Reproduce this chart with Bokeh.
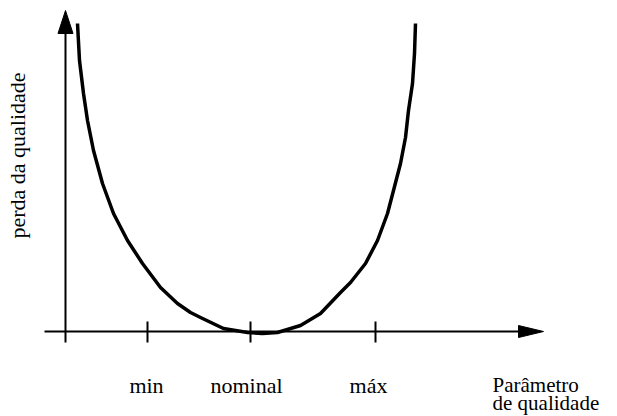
from bokeh.plotting import figure
from bokeh.models import Range1d, Label
from bokeh.embed import file_html
from bokeh.resources import INLINE

# Quality loss curve (x = quality parameter position, loss above the axis)
curve_x = [77, 79, 83, 87, 93, 102, 113, 127, 142, 160, 177, 190, 200, 223, 247, 262,
           277, 300, 320, 340, 350, 365, 377, 387, 393, 400, 405, 408, 412, 414, 415]
curve_loss = [308, 271, 238, 211, 181, 148, 118, 91, 68, 44, 28, 19, 14, 3, -1, -2,
              -1, 6, 18, 39, 49, 68, 91, 118, 141, 168, 194, 221, 248, 278, 308]

tick_x = [147, 250, 375]
tick_labels = ["min", "nominal", "máx"]
label_x = [146, 246, 368]

x_axis_start, x_axis_end = 44, 543
y_axis_x = 65
y_axis_bottom, y_axis_top = -11, 321

p = figure(width=617, height=416, output_backend="svg", toolbar_location=None,
           x_range=Range1d(0, 617), y_range=Range1d(-85, 331), min_border=0)
p.axis.visible = False
p.grid.visible = False
p.outline_line_color = None
p.background_fill_color = "white"
p.border_fill_color = "white"

# x axis line + arrow head
head_len_x, head_half_x = 25, 6
p.line([x_axis_start, x_axis_end - head_len_x], [0, 0], line_color="black", line_width=2)
p.patch([x_axis_end - head_len_x, x_axis_end, x_axis_end - head_len_x],
        [head_half_x, 0, -head_half_x], fill_color="black", line_color="black")

# y axis line + arrow head
head_len_y, head_half_y = 23, 7.5
p.line([y_axis_x, y_axis_x], [y_axis_bottom, y_axis_top - head_len_y], line_color="black", line_width=2)
p.patch([y_axis_x - head_half_y, y_axis_x, y_axis_x + head_half_y],
        [y_axis_top - head_len_y, y_axis_top, y_axis_top - head_len_y], fill_color="black", line_color="black")

# ticks
for tx in tick_x:
    p.line([tx, tx], [-11, 10], line_color="black", line_width=2)

# curve
p.line(curve_x, curve_loss, line_color="black", line_width=3.5, line_join="round")

font = "Liberation Serif"
for lx, lab in zip(label_x, tick_labels):
    p.add_layout(Label(x=lx, y=-54, text=lab, text_font=font, text_font_size="22px", text_color="black",
                       text_align="center", text_baseline="alphabetic"))

p.add_layout(Label(x=492, y=-53, text="Parâmetro", text_font=font, text_font_size="21px", text_color="black",
                   text_align="left", text_baseline="alphabetic"))
p.add_layout(Label(x=492, y=-71, text="de qualidade", text_font=font, text_font_size="21px", text_color="black",
                   text_align="left", text_baseline="alphabetic"))
p.add_layout(Label(x=17, y=176, text="perda da qualidade", text_font=font, text_font_size="22px", text_color="black",
                   text_align="center", text_baseline="middle", angle=1.5707963))

open("out.html", "w").write(file_html(p, INLINE))
